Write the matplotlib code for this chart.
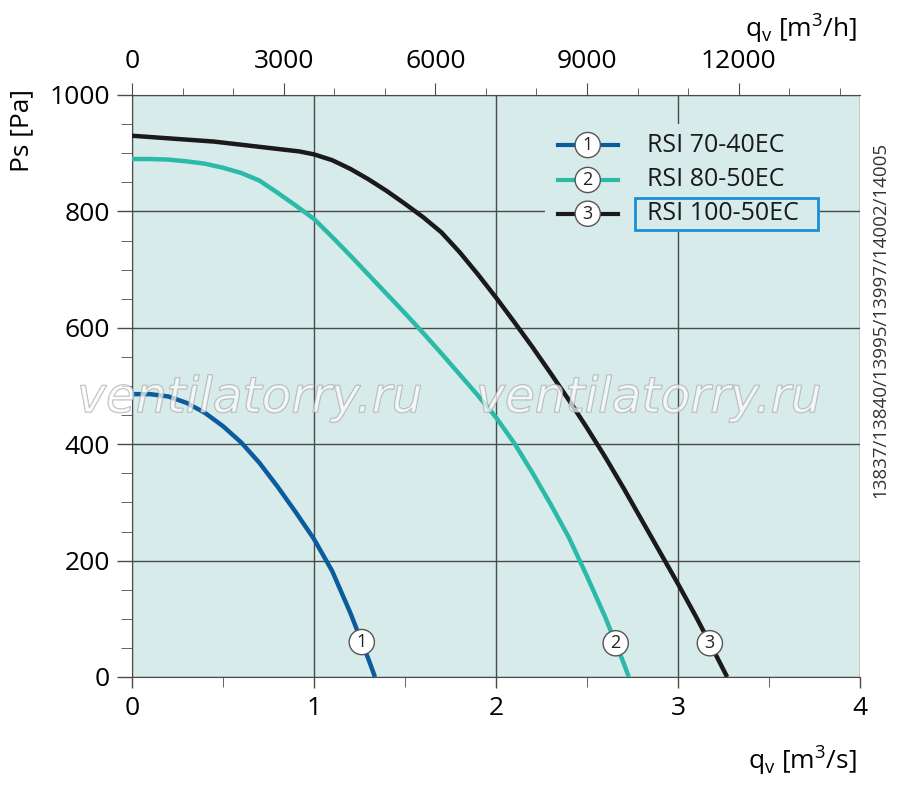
import numpy as np
import matplotlib
matplotlib.use("Agg")
import matplotlib.pyplot as plt
import matplotlib.patheffects as pe
from matplotlib.patches import Rectangle

plt.rcParams['font.family'] = ['Open Sans', 'DejaVu Sans']

# fan curves: q_v [m3/s] -> Ps [Pa]
q1 = [0.0, 0.1, 0.2, 0.3, 0.4, 0.5, 0.6, 0.7, 0.8, 0.9, 1.0, 1.1, 1.2, 1.3, 1.335]
p1 = [486, 486, 482, 471, 454, 431, 403, 368, 327, 283, 237, 182, 110, 30, 0]

q2 = [0.0, 0.1, 0.2, 0.3, 0.4, 0.5, 0.6, 0.7, 0.8, 0.9, 1.0, 1.1, 1.2, 1.3, 1.4,
      1.5, 1.6, 1.7, 1.8, 1.9, 2.0, 2.1, 2.2, 2.3, 2.4, 2.5, 2.6, 2.7, 2.73]
p2 = [890, 890, 889, 886, 882, 875, 866, 853, 832, 810, 787, 756, 724, 691, 658,
      625, 591, 556, 520, 484, 446, 402, 351, 297, 240, 173, 103, 25, 0]

q3 = [0.0, 0.45, 0.92, 1.0, 1.1, 1.2, 1.3, 1.4, 1.5, 1.6, 1.7, 1.8, 1.9, 2.0,
      2.1, 2.2, 2.3, 2.4, 2.5, 2.6, 2.7, 2.8, 2.9, 3.0, 3.1, 3.2, 3.27]
p3 = [930, 920, 903, 898, 888, 873, 855, 835, 813, 790, 764, 730, 692, 652,
      610, 567, 522, 476, 428, 378, 325, 270, 215, 160, 103, 43, 0]

names = ['RSI 70-40EC', 'RSI 80-50EC', 'RSI 100-50EC']
tags = ['1', '2', '3']
colors = ['#0b5c9e', '#2bbaa8', '#1a1a1a']
tag_level = [60, 58, 58]   # Ps where the circled number sits on each curve

panel = '#d7ebea'
gridc = '#4a4a4a'

fig = plt.figure(figsize=(9, 7.91), dpi=100)
ax = fig.add_axes([132/900, 1 - 677/791, 728/900, 582/791])
ax.set_facecolor(panel)
ax.set_xlim(0, 4)
ax.set_ylim(0, 1000)

ax.set_xticks([0, 1, 2, 3, 4])
ax.set_xticks(np.arange(0, 4.01, 0.5), minor=True)
ax.set_yticks(np.arange(0, 1001, 200))
ax.set_yticks(np.arange(0, 1001, 50), minor=True)
ax.tick_params(axis='both', which='major', labelsize=19, color=gridc, width=1)
ax.tick_params(axis='x', which='major', length=8, pad=6)
ax.tick_params(axis='x', which='minor', length=7, color=gridc)
ax.tick_params(axis='y', which='major', length=11, pad=5)
ax.tick_params(axis='y', which='minor', length=8, color=gridc)
ax.grid(True, which='major', color=gridc, lw=1)
for s in ['left', 'top', 'bottom']:
    ax.spines[s].set_color(gridc)
ax.spines['right'].set_visible(False)

# top axis in m3/h
top = ax.twiny()
top.set_xlim(0, 4 * 3600)
top.set_xticks(np.arange(0, 12001, 3000))
top.set_xticks(np.arange(0, 14001, 1000), minor=True)
top.tick_params(axis='x', which='major', labelsize=19, length=9, color=gridc, pad=6)
top.tick_params(axis='x', which='minor', length=5, color=gridc)
for s in top.spines.values():
    s.set_visible(False)

for q, p, c, t, lvl in zip([q1, q2, q3], [p1, p2, p3], colors, tags, tag_level):
    ax.plot(q, p, color=c, lw=3.2, solid_capstyle='butt', solid_joinstyle='round', zorder=3)
    xq = np.interp(lvl, p[::-1], q[::-1])
    ax.text(xq, lvl, t, ha='center', va='center', fontsize=13, color='#222222', zorder=5,
            bbox=dict(boxstyle='circle,pad=0.2', fc='white', ec='#555555', lw=1))

# legend drawn by hand
ax.add_patch(Rectangle((0.567, 0.765), 0.375, 0.185, transform=ax.transAxes,
                       fc=panel, ec='none', zorder=2.5))
rows_y = [0.914, 0.854, 0.796]
for yy, c, t, n in zip(rows_y, colors, tags, names):
    ax.plot([0.585, 0.667], [yy, yy], transform=ax.transAxes, color=c, lw=3, zorder=4)
    ax.text(0.626, yy, t, transform=ax.transAxes, ha='center', va='center', fontsize=13,
            color='#222222', zorder=5,
            bbox=dict(boxstyle='circle,pad=0.2', fc='white', ec='#555555', lw=1))
    ax.text(0.708, yy, n, transform=ax.transAxes, ha='left', va='center', fontsize=18,
            color='#1a1a1a', zorder=5)
ax.add_patch(Rectangle((0.691, 0.768), 0.251, 0.055, transform=ax.transAxes,
                       fc='none', ec='#1a8fd8', lw=2, zorder=5))

# axis titles
fig.text(22/900, 1 - 130/791, 'Ps [Pa]', rotation=90, ha='center', va='center', fontsize=19)
fig.text(857/900, 1 - 760/791, r'q$_\mathregular{v}$ [m$^\mathregular{3}$/s]', ha='right',
         va='center', fontsize=19)
fig.text(857/900, 1 - 28/791, r'q$_\mathregular{v}$ [m$^\mathregular{3}$/h]', ha='right',
         va='center', fontsize=19)
fig.text(880/900, 1 - 320/791, '13837/13840/13995/13997/14002/14005', rotation=90,
         ha='center', va='center', fontsize=13.5, color='#333333')

# watermark
for xw in [250, 649]:
    fig.text(xw/900, 1 - 398/791, 'ventilatorry.ru', ha='center', va='center',
             fontsize=35, family='DejaVu Sans', style='oblique', color=(1, 1, 1, 0.45),
             path_effects=[pe.withStroke(linewidth=1.0, foreground=(0.62, 0.62, 0.62, 0.7))],
             zorder=10)

fig.savefig('out.png', dpi=100)
